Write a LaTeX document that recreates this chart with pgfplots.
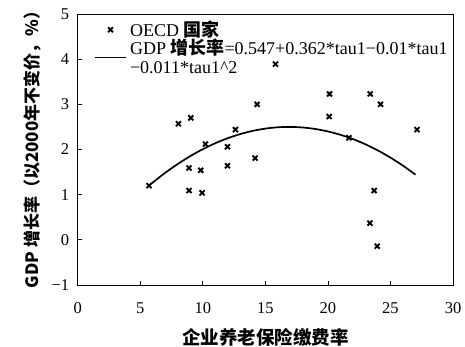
\documentclass[border=0pt]{standalone}
\usepackage{pgfplots}
\pgfplotsset{compat=1.18}
\usepackage{fontspec}
\setmainfont{Liberation Serif}
\newfontfamily\cjk{Noto Sans CJK SC}
\newcommand{\zh}[1]{{\cjk\bfseries #1}}
\begin{document}
\begin{tikzpicture}
\useasboundingbox (-77.7pt,-62pt) rectangle (387.3pt,285pt);
\begin{axis}[
  at={(0,0)}, anchor=south west,
  scale only axis, width=375.3pt, height=271pt,
  xmin=0, xmax=30, ymin=-1, ymax=5,
  xtick={0,5,...,30}, ytick={-1,0,1,2,3,4,5},
  yticklabels={−1,0,1,2,3,4,5},
  xtick pos=bottom, ytick pos=left, tick align=inside,
  major tick length=4pt,
  axis line style={line width=0.9pt},
  tick style={line width=0.8pt, black},
  /pgf/number format/assume math mode=true,
  tick label style={font=\fontsize{16.5}{18}\selectfont},
  xticklabel style={yshift=-14pt},
  yticklabel style={xshift=-5pt},
  xlabel={\zh{企业养老保险缴费率}},
  ylabel={\zh{GDP 增长率（以2000年不变价，\%）}},
  xlabel style={font=\fontsize{18.5}{20}\selectfont, yshift=-8pt},
  ylabel style={font=\fontsize{17}{19}\selectfont, at={(ticklabel cs:0.515)}, yshift=4pt},
  legend style={at={(0,1)}, anchor=north west, draw=none, fill=none,
    font=\fontsize{18}{19}\selectfont, xshift=14pt, yshift=-3pt,
    row sep=-3pt},
  legend cell align=left,
  legend style={nodes={align=left, inner xsep=4pt}},
]
\addplot[only marks, mark=x, mark size=3.5pt, line width=1.9pt, black] coordinates {
(5.70,1.20) (8.05,2.57) (9.04,2.70) (8.90,1.59) (8.90,1.09)
(9.84,1.54) (9.94,1.04) (10.21,2.12) (11.97,2.06) (11.97,1.64)
(12.61,2.44) (14.18,1.81) (14.34,3.00) (15.81,3.89) (20.10,2.73)
(20.13,3.23) (21.68,2.26) (23.38,3.23) (24.21,3.00) (23.70,1.09)
(23.36,0.37) (23.94,-0.14) (27.12,2.44)
};
\addlegendentry{OECD \zh{国家}}
\addplot[black, line width=1.7pt, smooth,
  legend image code/.code={\draw[black, line width=1pt] (-0.23cm,0cm) -- (0.83cm,0cm);}]
coordinates {
(5.7,1.200) (6,1.269) (7,1.485) (8,1.679) (9,1.853) (10,2.007)
(11,2.139) (12,2.251) (13,2.342) (14,2.413) (15,2.463) (16,2.492)
(17,2.500) (18,2.487) (19,2.454) (20,2.400) (21,2.326) (22,2.231)
(23,2.115) (24,1.978) (25,1.820) (26,1.642) (27,1.443)
};
\addlegendentry{GDP \zh{增长率}=0.547+0.362*tau1−0.01*tau1\\−0.011*tau1\^{}2}
\end{axis}
\end{tikzpicture}
\end{document}
